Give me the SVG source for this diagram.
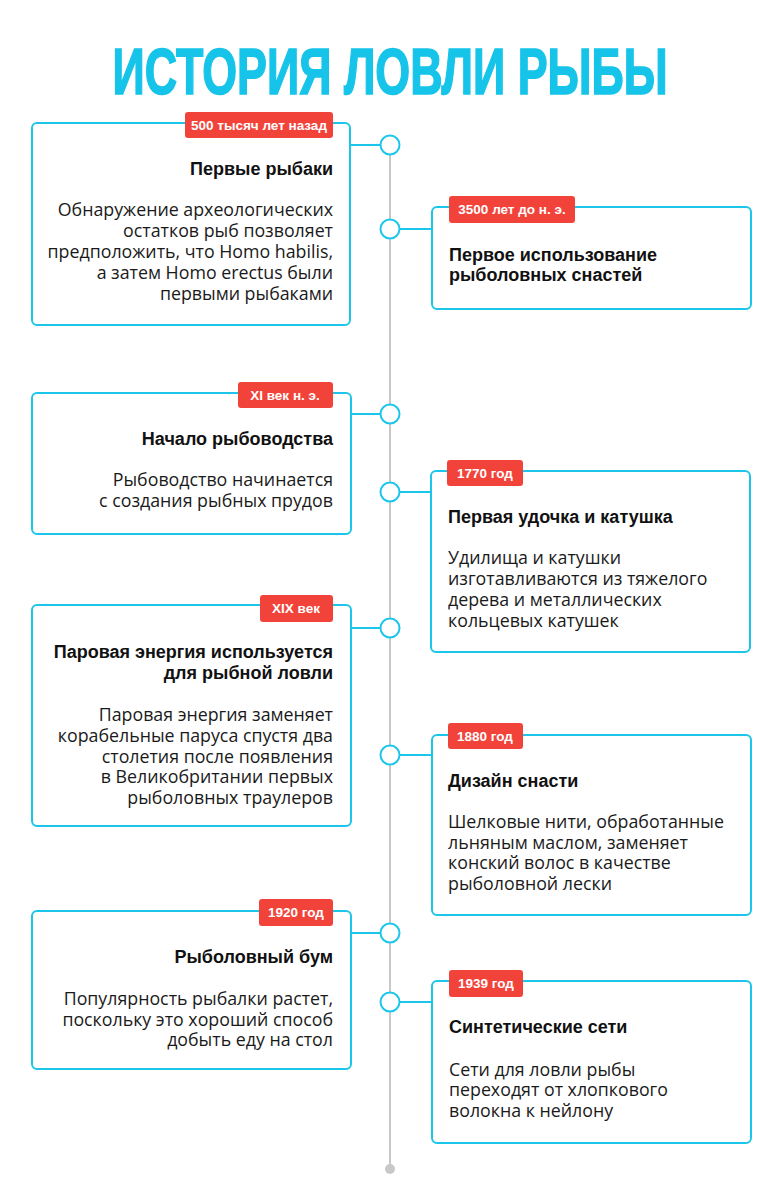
<svg xmlns="http://www.w3.org/2000/svg" width="779" height="1200" viewBox="0 0 779 1200">
<style>
.box{fill:#fff;stroke:#1cc6ea;stroke-width:2}
.tag{fill:#f2433a}
.tagt{font-family:"Liberation Sans",Arial,sans-serif;font-weight:bold;font-size:13.5px;fill:#fff;text-anchor:middle}
.ttl{font-family:"Liberation Sans",Arial,sans-serif;font-weight:bold;font-size:18px;fill:#111}
.body{font-family:"Open Sans","Liberation Sans",sans-serif;font-size:17.8px;fill:#1a1a1a}
.r{text-anchor:end}
.dot{fill:#fff;stroke:#1cc6ea;stroke-width:2}
.conn{stroke:#1cc6ea;stroke-width:2;fill:none}
</style>
<rect width="779" height="1200" fill="#fff"/>
<text transform="translate(390 94) scale(0.69 1)" x="0" y="0" font-family="Liberation Sans,Arial,sans-serif" font-weight="bold" font-size="65" fill="#17c4e9" stroke="#17c4e9" stroke-width="1.6" text-anchor="middle">ИСТОРИЯ ЛОВЛИ РЫБЫ</text>
<g id="connectors">
<line x1="390" y1="145" x2="390" y2="1169" stroke="#c8c8c8" stroke-width="2"/>
<circle cx="390" cy="1169" r="5" fill="#c8c8c8"/>
<line class="conn" x1="350" y1="145" x2="380" y2="145"/>
<line class="conn" x1="400" y1="229" x2="432" y2="229"/>
<line class="conn" x1="351" y1="414" x2="380" y2="414"/>
<line class="conn" x1="400" y1="492" x2="431" y2="492"/>
<line class="conn" x1="351" y1="628" x2="380" y2="628"/>
<line class="conn" x1="400" y1="755" x2="432" y2="755"/>
<line class="conn" x1="351" y1="933" x2="380" y2="933"/>
<line class="conn" x1="400" y1="1002" x2="432" y2="1002"/>
<circle class="dot" cx="390" cy="145" r="9.5"/>
<circle class="dot" cx="390" cy="229" r="9.5"/>
<circle class="dot" cx="390" cy="414" r="9.5"/>
<circle class="dot" cx="390" cy="492" r="9.5"/>
<circle class="dot" cx="390" cy="628" r="9.5"/>
<circle class="dot" cx="390" cy="755" r="9.5"/>
<circle class="dot" cx="390" cy="933" r="9.5"/>
<circle class="dot" cx="390" cy="1002" r="9.5"/>
</g>
<g id="n1">
<rect class="box" x="32" y="123" width="318" height="202" rx="5"/>
<rect class="tag" x="185" y="112" width="148" height="26" rx="3"/>
<text class="tagt" x="259" y="130">500 тысяч лет назад</text>
<text class="ttl r" x="333" y="175">Первые рыбаки</text>
<text class="body r" x="333" y="216">Обнаружение археологических</text>
<text class="body r" x="333" y="237">остатков рыб позволяет</text>
<text class="body r" x="333" y="258">предположить, что Homo habilis,</text>
<text class="body r" x="333" y="279">а затем Homo erectus были</text>
<text class="body r" x="333" y="300">первыми рыбаками</text>
</g>
<g id="n2">
<rect class="box" x="432" y="207" width="319" height="102" rx="5"/>
<rect class="tag" x="449" y="196" width="126" height="27" rx="3"/>
<text class="tagt" x="512" y="214">3500 лет до н. э.</text>
<text class="ttl" x="449" y="261">Первое использование</text>
<text class="ttl" x="449" y="281">рыболовных снастей</text>
</g>
<g id="n3">
<rect class="box" x="32" y="393" width="319" height="141" rx="5"/>
<rect class="tag" x="238" y="382" width="95" height="26" rx="3"/>
<text class="tagt" x="285" y="400">XI век н. э.</text>
<text class="ttl r" x="333" y="445">Начало рыбоводства</text>
<text class="body r" x="333" y="486">Рыбоводство начинается</text>
<text class="body r" x="333" y="507">с создания рыбных прудов</text>
</g>
<g id="n4">
<rect class="box" x="431" y="471" width="319" height="181" rx="5"/>
<rect class="tag" x="447" y="460" width="76" height="26" rx="3"/>
<text class="tagt" x="485" y="478">1770 год</text>
<text class="ttl" x="448" y="523">Первая удочка и катушка</text>
<text class="body" x="448" y="564">Удилища и катушки</text>
<text class="body" x="448" y="585">изготавливаются из тяжелого</text>
<text class="body" x="448" y="606">дерева и металлических</text>
<text class="body" x="448" y="627">кольцевых катушек</text>
</g>
<g id="n5">
<rect class="box" x="32" y="605" width="319" height="221" rx="5"/>
<rect class="tag" x="260" y="595" width="73" height="27" rx="3"/>
<text class="tagt" x="296" y="613">XIX век</text>
<text class="ttl r" x="333" y="658">Паровая энергия используется</text>
<text class="ttl r" x="333" y="679">для рыбной ловли</text>
<text class="body r" x="333" y="721">Паровая энергия заменяет</text>
<text class="body r" x="333" y="742">корабельные паруса спустя два</text>
<text class="body r" x="333" y="763">столетия после появления</text>
<text class="body r" x="333" y="783">в Великобритании первых</text>
<text class="body r" x="333" y="804">рыболовных траулеров</text>
</g>
<g id="n6">
<rect class="box" x="432" y="735" width="319" height="180" rx="5"/>
<rect class="tag" x="448" y="723" width="75" height="26" rx="3"/>
<text class="tagt" x="485" y="741">1880 год</text>
<text class="ttl" x="448" y="787">Дизайн снасти</text>
<text class="body" x="448" y="828">Шелковые нити, обработанные</text>
<text class="body" x="448" y="849">льняным маслом, заменяет</text>
<text class="body" x="448" y="869">конский волос в качестве</text>
<text class="body" x="448" y="890">рыболовной лески</text>
</g>
<g id="n7">
<rect class="box" x="32" y="911" width="319" height="158" rx="5"/>
<rect class="tag" x="259" y="899" width="74" height="27" rx="3"/>
<text class="tagt" x="296" y="917">1920 год</text>
<text class="ttl r" x="333" y="963">Рыболовный бум</text>
<text class="body r" x="333" y="1005">Популярность рыбалки растет,</text>
<text class="body r" x="333" y="1026">поскольку это хороший способ</text>
<text class="body r" x="333" y="1046">добыть еду на стол</text>
</g>
<g id="n8">
<rect class="box" x="432" y="981" width="319" height="162" rx="5"/>
<rect class="tag" x="449" y="970" width="74" height="27" rx="3"/>
<text class="tagt" x="486" y="988">1939 год</text>
<text class="ttl" x="449" y="1033">Синтетические сети</text>
<text class="body" x="449" y="1076">Сети для ловли рыбы</text>
<text class="body" x="449" y="1096">переходят от хлопкового</text>
<text class="body" x="449" y="1117">волокна к нейлону</text>
</g>
</svg>
